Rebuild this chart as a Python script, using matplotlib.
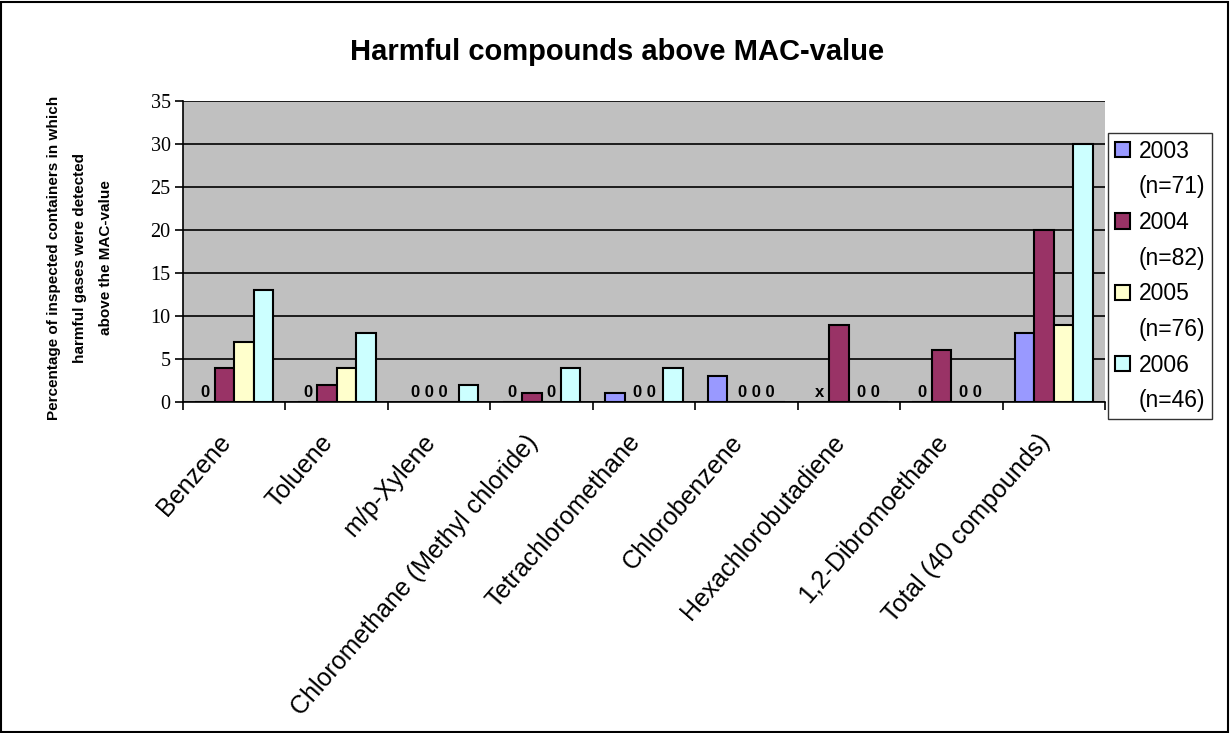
import matplotlib
matplotlib.use("Agg")
import matplotlib.pyplot as plt
import numpy as np
from matplotlib.patches import Rectangle
from matplotlib.transforms import ScaledTranslation

categories = ["Benzene", "Toluene", "m/p-Xylene", "Chloromethane (Methyl chloride)",
              "Tetrachloromethane", "Chlorobenzene", "Hexachlorobutadiene",
              "1,2-Dibromoethane", "Total (40 compounds)"]
years = ["2003", "2004", "2005", "2006"]
sample_sizes = ["(n=71)", "(n=82)", "(n=76)", "(n=46)"]
v2003 = [0, 0, 0, 0, 1, 3, np.nan, 0, 8]
v2004 = [4, 2, 0, 1, 0, 0, 9, 6, 20]
v2005 = [7, 4, 0, 0, 0, 0, 0, 0, 9]
v2006 = [13, 8, 2, 4, 4, 0, 0, 0, 30]
colors = ["#9999FF", "#993366", "#FFFFCC", "#CCFFFF"]
yticks = [0, 5, 10, 15, 20, 25, 30, 35]

W, H = 1230, 733
fig = plt.figure(figsize=(W / 100, H / 100), dpi=100)
ax = fig.add_axes([183 / W, 1 - 402 / H, (1105 - 183) / W, (402 - 101) / H])
ax.set_facecolor("#C0C0C0")

series = [np.array(v, dtype=float) for v in (v2003, v2004, v2005, v2006)]
n = len(categories)
x = np.arange(n)
bw = 0.19
offsets = (np.arange(4) - 1.5) * bw
handles = []
for s, (vals, col) in enumerate(zip(series, colors)):
    h = ax.bar(x + offsets[s], np.nan_to_num(vals), width=bw, color=col,
               edgecolor="black", linewidth=1.5, zorder=3)
    handles.append(h)


def put_run(i, run):
    xs = np.mean([x[i] + offsets[k] for k, _ in run])
    ax.annotate(" ".join(t for _, t in run), (xs, 0), xytext=(0, 3.5),
                textcoords="offset points", ha="center", va="baseline",
                fontsize=12, fontweight="bold", family="Liberation Sans", zorder=4)


# labels for empty bars ("0" for zero, "x" for not measured), grouped in runs
for i in range(n - 1):
    run = []
    for s in range(4):
        v = series[s][i]
        lab = "x" if np.isnan(v) else ("0" if v == 0 else None)
        if lab is None:
            if run:
                put_run(i, run)
            run = []
        elif run and run[-1][1] != lab:
            put_run(i, run)
            run = [(s, lab)]
        else:
            run.append((s, lab))
    if run:
        put_run(i, run)

ax.set_xlim(-0.5, n - 0.5)
ax.set_ylim(0, 35)
ax.set_yticks(yticks)
ax.set_yticklabels([str(t) for t in yticks], family="Liberation Serif", fontsize=14.5)
ax.yaxis.grid(True, color="black", linewidth=1.2, zorder=1)
ax.set_axisbelow(True)
ax.set_xticks(np.arange(n + 1) - 0.5, minor=False)
ax.set_xticklabels([])
ax.set_xticks(x, minor=True)
ax.set_xticklabels(categories, minor=True, rotation=49, ha="right", va="center",
                   rotation_mode="anchor", family="Liberation Sans", fontsize=18)
ax.tick_params(axis="x", which="minor", length=0, pad=26)
ax.tick_params(axis="x", which="major", length=6, direction="out", width=1.2)
ax.tick_params(axis="y", length=6, direction="out", width=1.2, pad=3)
shift = ScaledTranslation(-8 / 100, 0, fig.dpi_scale_trans)
for lbl in ax.get_xticklabels(minor=True):
    lbl.set_transform(lbl.get_transform() + shift)
for side in ["top", "right"]:
    ax.spines[side].set_visible(False)
ax.spines["left"].set_linewidth(1.2)
ax.spines["bottom"].set_linewidth(1.2)

fig.text(617 / W, 1 - 52 / H, "Harmful compounds above MAC-value", ha="center", va="center",
         fontsize=21, fontweight="bold", family="Liberation Sans")
fig.text(80 / W, 1 - 258 / H,
         "Percentage of inspected containers in which\nharmful gases were detected\nabove the MAC-value",
         ha="center", va="center", rotation=90, fontsize=11, fontweight="bold",
         family="Liberation Sans", linespacing=2.1)

# legend: year line with colour box, then sample size line without box
leg_handles, leg_labels = [], []
for h, yr, ns in zip(handles, years, sample_sizes):
    leg_handles.append(h)
    leg_labels.append(yr)
    leg_handles.append(Rectangle((0, 0), 1, 1, visible=False))
    leg_labels.append(ns)
leg = fig.legend(handles=leg_handles, labels=leg_labels, loc="upper left",
                 bbox_to_anchor=(1108 / W, 1 - 133 / H), frameon=True, fancybox=False,
                 prop={"family": "Liberation Sans", "size": 16.5}, handlelength=0.65,
                 handleheight=0.65, handletextpad=0.4, labelspacing=0.55,
                 borderpad=0.3, borderaxespad=0)
leg.get_frame().set_edgecolor("black")
leg.get_frame().set_linewidth(1.0)

fig.patches.append(Rectangle((1 / W, 1 / H), (W - 3) / W, (H - 3) / H, transform=fig.transFigure,
                             fill=False, edgecolor="black", linewidth=1.5))

fig.savefig("out.png", dpi=100, facecolor="white")
